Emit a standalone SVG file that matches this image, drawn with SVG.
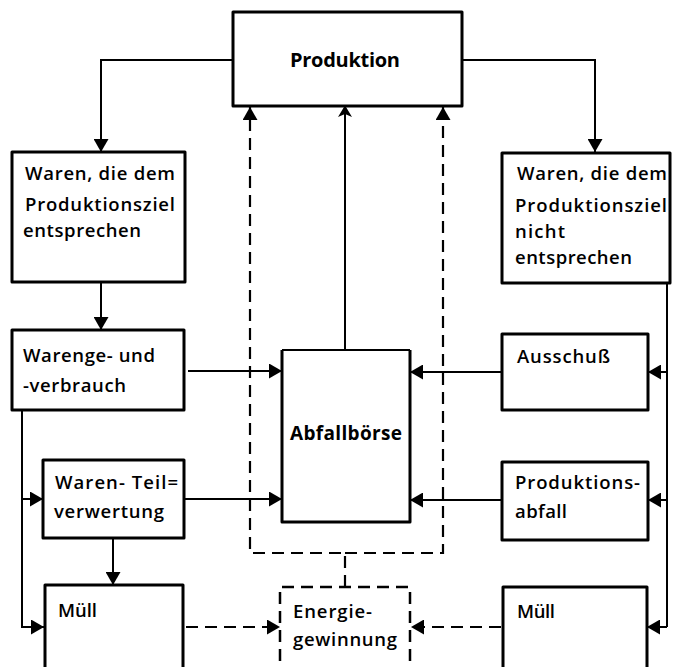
<svg xmlns="http://www.w3.org/2000/svg" width="675" height="667" viewBox="0 0 675 667">
<style>
.box{fill:#fff;stroke:#000;stroke-width:3;stroke-linejoin:round}
.dbox{fill:#fff;stroke:#000;stroke-width:2.5;stroke-dasharray:12 7}
.c{fill:none;stroke:#000;stroke-width:2}
.d{fill:none;stroke:#000;stroke-width:2.2;stroke-dasharray:12 7}
text{font-family:"Open Sans","Liberation Sans",Arial,sans-serif;font-size:18.5px;font-weight:600;fill:#000}
.t{font-weight:700;font-size:20px}
</style>
<defs>
<marker id="ah" viewBox="0 0 13 15" refX="13" refY="7.5" markerWidth="13" markerHeight="15" orient="auto" markerUnits="userSpaceOnUse"><path d="M0,0 L13,7.5 L0,15 z" fill="#000"/></marker>
<marker id="sm" viewBox="0 0 10 14" refX="10" refY="7" markerWidth="10" markerHeight="14" orient="auto" markerUnits="userSpaceOnUse"><path d="M0,0 L10,6 L10,8 L0,14 L3,7 z" fill="#000"/></marker>
</defs>
<rect width="675" height="667" fill="#fff"/>
<g id="connectors">
<path class="c" d="M233,60 H101 V152" marker-end="url(#ah)"/>
<path class="c" d="M462,60 H595 V152" marker-end="url(#ah)"/>
<path class="c" d="M101,282 V330" marker-end="url(#ah)"/>
<path class="c" d="M188,371 H282" marker-end="url(#ah)"/>
<path class="c" d="M185,499 H282" marker-end="url(#ah)"/>
<path class="c" d="M22,411 V627 H44" marker-end="url(#ah)"/>
<path class="c" d="M22,499 H43" marker-end="url(#ah)"/>
<path class="c" d="M113,538 V585" marker-end="url(#ah)"/>
<path class="c" d="M345,350 V107" marker-end="url(#sm)"/>
<path class="d" d="M345,587 V553 H250 V107" marker-end="url(#ah)"/>
<path class="d" d="M345,553 H443 V107" marker-end="url(#ah)"/>
<path class="c" d="M502,372 H410" marker-end="url(#ah)"/>
<path class="c" d="M502,500 H410" marker-end="url(#ah)"/>
<path class="c" d="M667,283 V627"/>
<path class="c" d="M667,372 H648" marker-end="url(#ah)"/>
<path class="c" d="M667,500 H648" marker-end="url(#ah)"/>
<path class="c" d="M667,627 H647" marker-end="url(#ah)"/>
<path class="d" d="M186,627 H280" marker-end="url(#ah)"/>
<path class="d" d="M501,627 H411" marker-end="url(#ah)"/>
</g>
<g id="produktion">
<rect class="box" x="233" y="12" width="229" height="94" stroke-width="3.5"/>
<text class="t" x="290" y="67" textLength="110">Produktion</text>
</g>
<g id="waren-ziel">
<rect class="box" x="12" y="152" width="173" height="130"/>
<text x="25" y="180" textLength="150">Waren, die dem</text>
<text x="25" y="211" textLength="150">Produktionsziel</text>
<text x="23" y="237" textLength="118">entsprechen</text>
</g>
<g id="waren-nicht-ziel">
<rect class="box" x="502" y="153" width="168" height="130"/>
<text x="517" y="180" textLength="150">Waren, die dem</text>
<text x="515" y="212" textLength="152">Produktionsziel</text>
<text x="515" y="238" textLength="50">nicht</text>
<text x="515" y="264" textLength="117">entsprechen</text>
</g>
<g id="warengebrauch">
<rect class="box" x="12" y="330" width="172" height="80"/>
<text x="23" y="362" textLength="132">Warenge- und</text>
<text x="23" y="392" textLength="103">-verbrauch</text>
</g>
<g id="teilverwertung">
<rect class="box" x="43" y="460" width="141" height="78"/>
<text x="55" y="489" textLength="123">Waren- Teil=</text>
<text x="54" y="518" textLength="110">verwertung</text>
</g>
<g id="muell-links">
<path class="box" d="M45,680 V585 H183 V680"/>
<text x="58" y="617" textLength="39">Müll</text>
</g>
<g id="abfallboerse">
<path class="box" d="M282,350 V522 H410 V350" stroke-width="3.5"/>
<path class="c" d="M282,350 H410"/>
<text class="t" x="290" y="440" textLength="112" style="font-size:19px">Abfallbörse</text>
</g>
<g id="ausschuss">
<rect class="box" x="502" y="334" width="146" height="76"/>
<text x="517" y="363" textLength="93">Ausschuß</text>
</g>
<g id="produktionsabfall">
<rect class="box" x="502" y="462" width="146" height="78"/>
<text x="515" y="489" textLength="125">Produktions-</text>
<text x="515" y="518" textLength="52">abfall</text>
</g>
<g id="energiegewinnung">
<path class="dbox" d="M280,680 V587 H410 V680"/>
<text x="293" y="618" textLength="79">Energie-</text>
<text x="293" y="646" textLength="104">gewinnung</text>
</g>
<g id="muell-rechts">
<path class="box" d="M503,680 V587 H647 V680"/>
<text x="517" y="618" textLength="38">Müll</text>
</g>
</svg>
